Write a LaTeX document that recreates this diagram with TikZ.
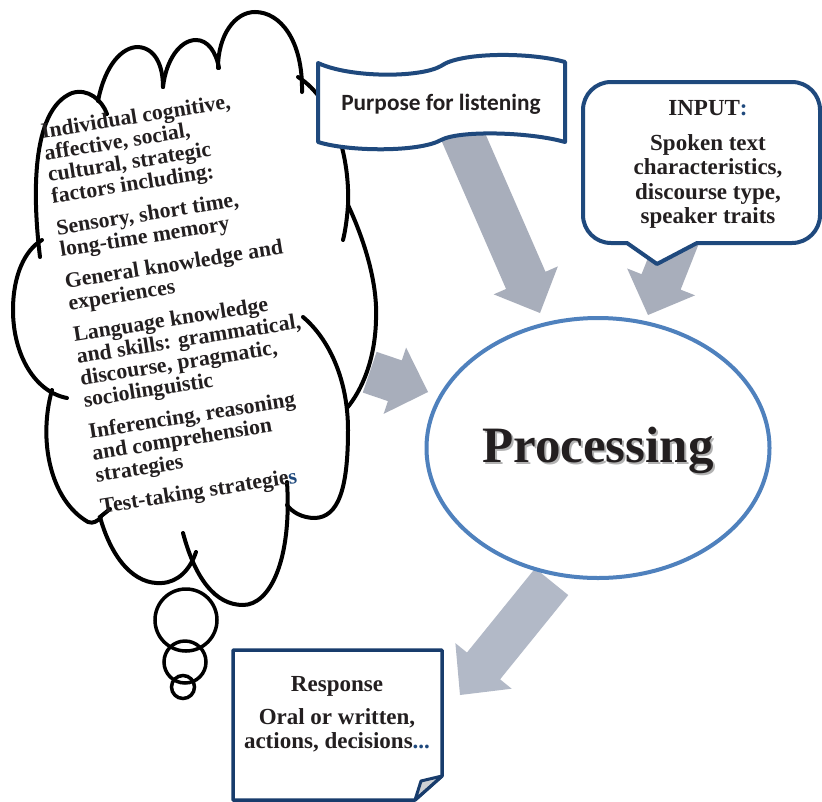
\documentclass[tikz,border=0pt]{standalone}
\usepackage{fontspec}
\setmainfont{Liberation Serif}
\newfontfamily\carlito{Carlito}
\usetikzlibrary{calc,shapes.geometric}
\definecolor{navy}{RGB}{31,73,125}
\definecolor{navydark}{RGB}{24,60,108}
\definecolor{ellblue}{RGB}{79,129,189}
\definecolor{agray}{RGB}{168,174,187}
\definecolor{agraylight}{RGB}{178,185,199}
\definecolor{txt}{RGB}{35,31,32}
\definecolor{flapgray}{RGB}{205,208,212}
% [colour]{start}{end}{shaft half width}{head half width}{head length}
\newcommand\blockarrow[6][agray]{%
  \coordinate (#2-H) at ($(#3)!#6!(#2)$);
  \fill[#1] ($(#2)!#4!90:(#3)$) -- ($(#2-H)!#4!90:(#3)$) -- ($(#2-H)!#5!90:(#3)$)
     -- (#3) -- ($(#2-H)!#5!-90:(#3)$) -- ($(#2-H)!#4!-90:(#3)$)
     -- ($(#2)!#4!-90:(#3)$) -- cycle;}
\tikzset{
  cloudline/.style={draw=black, line width=4pt, line cap=round},
  bubble/.style={draw=black, line width=3.5pt},
  navybox/.style={draw=navy, line width=4pt, fill=white, line join=round},
  cloudtext/.style={font=\fontsize{21.8}{22}\selectfont\bfseries, align=left, inner sep=0pt, text=txt},
  boxtext/.style={font=\fontsize{23}{24.5}\selectfont\bfseries, align=center, inner sep=0pt, text=txt},
}
\begin{document}
\begin{tikzpicture}[x=1pt,y=-1pt]
\useasboundingbox (0,0) rectangle (822,801);
\fill[white] (0,0) rectangle (822,801);

% ---------- block arrows (drawn first, under the shapes)
\coordinate (aS) at (455,118);   \coordinate (aE) at (540,313);
\coordinate (bS) at (703,176);   \coordinate (bE) at (648,315);
\coordinate (cS) at (369.7,372.2); \coordinate (cE) at (428,392);
\coordinate (dS) at (551.7,581.7); \coordinate (dE) at (460,695);
\blockarrow{aS}{aE}{21.5pt}{35pt}{35.6pt}
\blockarrow{bS}{bE}{21pt}{36.5pt}{35.6pt}
\blockarrow{cS}{cE}{21.5pt}{35pt}{35pt}
\blockarrow[agraylight]{dS}{dE}{21.3pt}{36.2pt}{37.4pt}

% ---------- thought cloud outline
\path[cloudline] (40,257) .. controls (33,200) and (30,110) .. (72,93) .. controls (88,88) and (102,100) .. (107,114);
\path[cloudline] (98,101) .. controls (105,65) and (122,47) .. (138,47) .. controls (155,48) and (163,65) .. (163,87);
\path[cloudline] (163,87) .. controls (166,60) and (180,40) .. (196,40) .. controls (208,40) and (216,52) .. (219,68);
\path[cloudline] (218,68) .. controls (218,35) and (235,12) .. (255,12) .. controls (280,12) and (303,40) .. (302,92);
\path[cloudline] (298,77) .. controls (335,100) and (350,160) .. (348,205) .. controls (347,220) and (345,232) .. (343,240);
\path[cloudline] (348,205) .. controls (362,235) and (378,280) .. (376,320) .. controls (375,360) and (362,390) .. (347,408);
\path[cloudline] (303,317) .. controls (328,338) and (348,378) .. (348,430) .. controls (348,490) and (338,517) .. (315,518) .. controls (302,518) and (292,512) .. (287,505);
\path[cloudline] (287,482) .. controls (292,560) and (270,605) .. (243,605) .. controls (215,605) and (195,578) .. (183,533);
\path[cloudline] (110,509) -- (100,517) .. controls (112,560) and (135,585) .. (162,583) .. controls (178,582) and (190,570) .. (196,552);
\path[cloudline] (52,390) .. controls (38,440) and (50,500) .. (88,522) .. controls (93,524) and (98,521) .. (101,517);
\path[cloudline] (42,240) .. controls (25,250) and (13,275) .. (13,310) .. controls (13,355) and (35,392) .. (67,398);

% thought bubbles
\node[bubble, circle, minimum size=62pt, inner sep=0pt] (bub1) at (186,620) {};
\node[bubble, circle, minimum size=42pt, inner sep=0pt] (bub2) at (185,662) {};
\node[bubble, circle, minimum size=23pt, inner sep=0pt] (bub3) at (183,687) {};

% cloud text
\node[cloudtext, anchor=north west, rotate=9] (factors) at (39.7,123.3)
 {Individual cognitive,\\ affective, social,\\ cultural, strategic\\ factors including:\\[10pt]
  Sensory, short time,\\ long-time memory\\[10pt]
  General knowledge and\\ experiences\\[10pt]
  Language knowledge\\ and skills: grammatical,\\ discourse, pragmatic,\\ sociolinguistic\\[10pt]
  Inferencing, reasoning\\ and comprehension\\ strategies\\[10pt]
  Test-taking strategie\textcolor{navy}{s}};

% ---------- Purpose for listening (wave banner)
\path[navybox] (318,63) .. controls (350,78) and (420,78) .. (441,66) .. controls (460,52) and (530,52) .. (565,62)
  -- (565,142) .. controls (530,132) and (460,130) .. (441,140) .. controls (420,152) and (350,152) .. (318,142) -- cycle;
\node[anchor=base, inner sep=0pt, text=txt, font=\carlito\bfseries\fontsize{23.3}{25}\selectfont] (purpose) at (441,110) {Purpose for listening};

% ---------- INPUT callout
\path[navybox] (627,243) -- (611,243) .. controls (595.5,243) and (583,230.5) .. (583,215) -- (583,110)
  .. controls (583,94.5) and (595.5,82) .. (611,82) -- (792,82) .. controls (807.5,82) and (820,94.5) .. (820,110)
  -- (820,215) .. controls (820,230.5) and (807.5,243) .. (792,243) -- (697,243) -- (657,264) -- cycle;
\node[boxtext, anchor=north] (input) at (708,99.8)
 {INPUT\textcolor{navy}{:}\\[10.5pt] Spoken text\\ characteristics,\\ discourse type,\\ speaker traits};

% ---------- Processing ellipse (text with a soft shadow)
\node[ellipse, draw=ellblue, line width=4pt, fill=white, minimum width=343pt, minimum height=260pt, inner sep=0pt] (proc) at (598,448) {};
\node[anchor=base, inner sep=0pt, text=black!30, font=\fontsize{51}{55}\selectfont\bfseries] (procshadow) at (600,464) {Processing};
\node[anchor=base, inner sep=0pt, text=txt, font=\fontsize{51}{55}\selectfont\bfseries] (proctext) at (598,462) {Processing};

% ---------- Response (folded note)
\path[navybox, draw=navydark, line width=3.5pt] (415,800) -- (233,800) -- (233,650) -- (442,650) -- (442,776) -- cycle;
\path[draw=navydark, line width=3pt, fill=flapgray, line join=round] (442,776) -- (421,781) -- (415,800) -- cycle;
\node[boxtext, anchor=north] (response) at (337,676.3)
 {Response\\[8pt] Oral or written,\\ actions, decisions\textcolor{navy}{...}};
\end{tikzpicture}
\end{document}
